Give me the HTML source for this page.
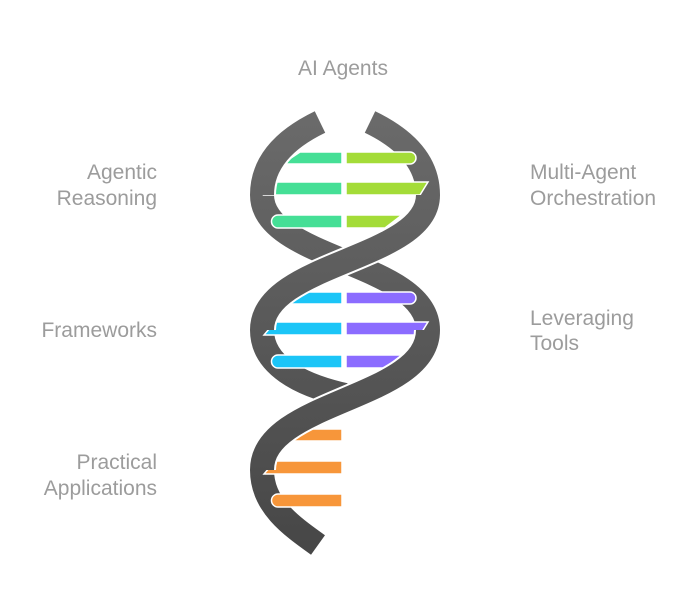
<!DOCTYPE html>
<html><head><style>
body{margin:0;background:#fff;width:700px;height:599px;overflow:hidden}
svg{position:absolute;left:0;top:0}
text{font-family:"Liberation Sans",sans-serif;font-size:21px;fill:#9c9c9c}
</style></head><body>
<svg width="700" height="599" viewBox="0 0 700 599">
<defs>
<linearGradient id="g" gradientUnits="userSpaceOnUse" x1="0" y1="120" x2="0" y2="545">
<stop offset="0" stop-color="#6a6a6a"/><stop offset="1" stop-color="#474747"/></linearGradient>
</defs>
<text x="343" y="75" text-anchor="middle">AI Agents</text>
<text x="157" y="179" text-anchor="end">Agentic</text>
<text x="157" y="205" text-anchor="end">Reasoning</text>
<text x="157" y="337" text-anchor="end">Frameworks</text>
<text x="157" y="469" text-anchor="end">Practical</text>
<text x="157" y="495" text-anchor="end">Applications</text>
<text x="530" y="179">Multi-Agent</text>
<text x="530" y="205">Orchestration</text>
<text x="530" y="325">Leveraging</text>
<text x="530" y="350">Tools</text>

<g fill="none" stroke-linecap="butt">
<g stroke="#fff" stroke-width="28">
<path d="M370,122 Q428,150 428,195"/>
<path d="M262,195 C262,260 428,262 428,330"/>
<path d="M262,330 C262,365 300,385 345,395"/>
<path d="M262,470 C262,505 290,525 318,545"/>
</g>
<g stroke="url(#g)" stroke-width="24">
<path d="M370,122 Q428,150 428,195"/>
<path d="M262,195 C262,260 428,262 428,330"/>
<path d="M262,330 C262,365 300,385 345,395"/>
<path d="M262,470 C262,505 290,525 318,545"/>
</g>
</g>

<g stroke="#fff" stroke-width="1.5">
<path d="M300,152 H342 V164 H282 Z" fill="#45df96"/>
<path d="M346,152 H410 A6,6 0 0 1 410,164 H346 Z" fill="#a4dc38"/>
<path d="M275,182 H342 V195 H264 Z" fill="#45df96"/>
<path d="M346,182 H428 L420,195 H346 Z" fill="#a4dc38"/>
<path d="M278,215 H342 V228 H278 A6.5,6.5 0 0 1 278,215 Z" fill="#45df96"/>
<path d="M346,215 H402 L385,228 H346 Z" fill="#a4dc38"/>
<path d="M300,292 H342 V304 H282 Z" fill="#1bc5f7"/>
<path d="M346,292 H410 A6,6 0 0 1 410,304 H346 Z" fill="#8b6cff"/>
<path d="M275,322 H342 V335 H264 Z" fill="#1bc5f7"/>
<path d="M346,322 H428 L420,335 H346 Z" fill="#8b6cff"/>
<path d="M278,355 H342 V368 H278 A6.5,6.5 0 0 1 278,355 Z" fill="#1bc5f7"/>
<path d="M346,355 H402 L385,368 H346 Z" fill="#8b6cff"/>
<path d="M300,429 H342 V441 H282 Z" fill="#f7963a"/>
<path d="M275,461 H342 V474 H264 Z" fill="#f7963a"/>
<path d="M278,494 H342 V507 H278 A6.5,6.5 0 0 1 278,494 Z" fill="#f7963a"/>
</g>

<g fill="none">
<g stroke="#fff" stroke-width="28">
<path d="M320,122 Q262,150 262,195"/>
<path d="M428,195 C428,260 262,262 262,330"/>
<path d="M428,330 C428,400 262,400 262,470"/>
</g>
<g stroke="url(#g)" stroke-width="24">
<path d="M320,122 Q262,150 262,195"/>
<path d="M428,195 C428,260 262,262 262,330"/>
<path d="M428,330 C428,400 262,400 262,470"/>
</g>
</g>
</svg>
</body></html>
